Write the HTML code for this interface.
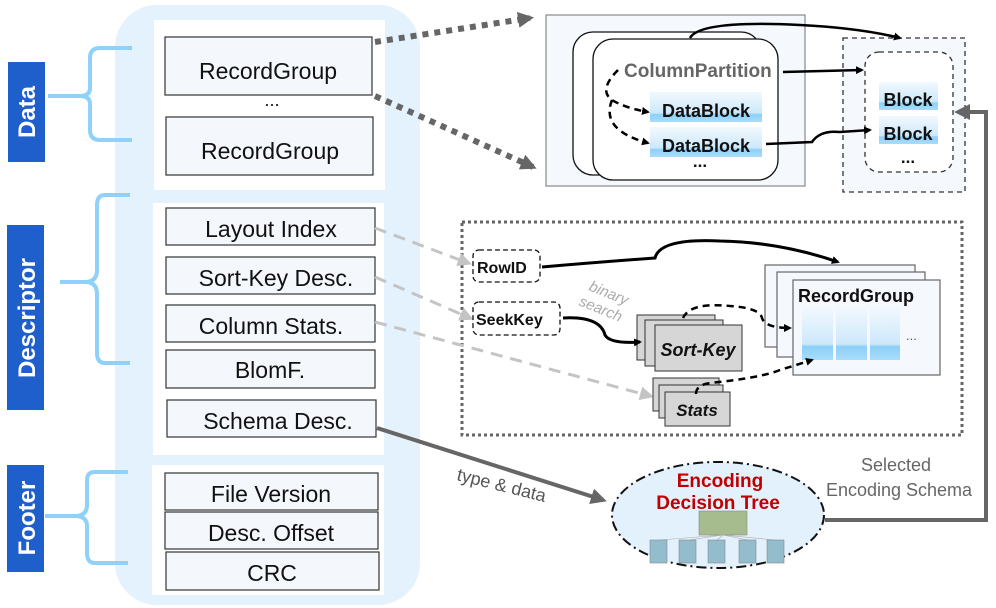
<!DOCTYPE html>
<html><head><meta charset="utf-8"><style>
body{margin:0;background:#fff}
svg{display:block;font-family:"Liberation Sans",sans-serif}
</style></head><body>
<svg width="996" height="608" viewBox="0 0 996 608" xmlns="http://www.w3.org/2000/svg">
<defs>
<marker id="ab" markerWidth="8" markerHeight="8" refX="6" refY="4" orient="auto" markerUnits="userSpaceOnUse"><path d="M0,0 L8,4 L0,8 z" fill="#000"/></marker>
<marker id="ag" markerWidth="16" markerHeight="16" refX="12" refY="8" orient="auto" markerUnits="userSpaceOnUse"><path d="M0,0 L16,8 L0,16 z" fill="#666"/></marker>
<marker id="al" markerWidth="14" markerHeight="14" refX="10" refY="7" orient="auto" markerUnits="userSpaceOnUse"><path d="M0,0 L14,7 L0,14 z" fill="#c4c4c4"/></marker>
<linearGradient id="bl" x1="0" y1="0" x2="0" y2="1"><stop offset="0" stop-color="#f2f9fe"/><stop offset="0.7" stop-color="#cde8fb"/><stop offset="0.75" stop-color="#8dd0f8"/><stop offset="1" stop-color="#a9dcfa"/></linearGradient>
</defs>
<!-- left -->
<rect x="115" y="5" width="305" height="600" rx="42" fill="#e4f2fd"/>
<rect x="154" y="20" width="231" height="170" fill="#fff"/>
<rect x="153" y="203" width="231" height="252" fill="#fff"/>
<rect x="152" y="465" width="232" height="130" fill="#fff"/>
<g fill="#f4f8fc" stroke="#333" stroke-width="1.2">
<rect x="165" y="37" width="207" height="58"/><rect x="166" y="117" width="207" height="58"/>
<rect x="166" y="208" width="209" height="37"/><rect x="166" y="257" width="209" height="37"/>
<rect x="166" y="305" width="209" height="37"/><rect x="166" y="350" width="209" height="38"/>
<rect x="167" y="400" width="209" height="37"/>
<rect x="165" y="473" width="213" height="37"/><rect x="165" y="512" width="213" height="37"/>
<rect x="166" y="552" width="213" height="38"/>
</g>
<g font-size="23" text-anchor="middle" fill="#111">
<text x="268" y="79">RecordGroup</text><text x="270" y="159">RecordGroup</text>
<text x="272" y="106" font-size="18">...</text>
<text x="271" y="237">Layout Index</text><text x="276" y="286">Sort-Key Desc.</text>
<text x="271" y="334">Column Stats.</text><text x="270" y="378">BlomF.</text>
<text x="278" y="429">Schema Desc.</text>
<text x="271" y="502">File Version</text><text x="271" y="541">Desc. Offset</text>
<text x="272" y="581">CRC</text>
</g>
<g fill="#1f5fcc"><rect x="8" y="62" width="37" height="100"/><rect x="7" y="225" width="37" height="185"/><rect x="7" y="465" width="37" height="107"/></g>
<g fill="#fff" font-size="24" font-weight="bold" text-anchor="middle">
<text transform="translate(35,112) rotate(-90)">Data</text>
<text transform="translate(35,318) rotate(-90)">Descriptor</text>
<text transform="translate(35,518) rotate(-90)">Footer</text>
</g>
<g fill="none" stroke="#8fd1f8" stroke-width="4">
<path d="M132,48 H100 Q90,48 90,58 V88 Q90,96 80,96 H48 M80,96 Q90,96 90,104 V130 Q90,140 100,140 H132"/>
<path d="M130,195 H105 Q97,195 97,205 V270 Q97,282 85,282 H60 M85,282 Q97,282 97,294 V353 Q97,363 105,363 H130"/>
<path d="M128,472 H95 Q87,472 87,480 V505 Q87,516 75,516 H45 M75,516 Q87,516 87,526 V553 Q87,563 95,563 H128"/>
</g>
<!-- top right -->
<path d="M375,42 L530,18" stroke="#666" stroke-width="6" stroke-dasharray="6,6" fill="none" marker-end="url(#ag)"/>
<path d="M375,96 L533,167" stroke="#666" stroke-width="6" stroke-dasharray="6,6" fill="none" marker-end="url(#ag)"/>
<rect x="546" y="15" width="259" height="171" fill="#f5f9fd" stroke="#888" stroke-width="1.2"/>
<rect x="573" y="32" width="188" height="143" rx="20" fill="#fff" stroke="#111" stroke-width="1.3"/>
<rect x="593" y="39" width="185" height="141" rx="20" fill="#fff" stroke="#111" stroke-width="1.3"/>
<text x="624" y="77" font-size="19" font-weight="bold" fill="#666">ColumnPartition</text>
<rect x="650" y="92" width="112" height="30" fill="url(#bl)"/><rect x="650" y="127" width="112" height="30" fill="url(#bl)"/>
<g font-size="18" font-weight="bold" fill="#111" text-anchor="middle"><text x="706" y="117">DataBlock</text><text x="706" y="152">DataBlock</text>
<text x="700" y="167" font-size="17">...</text></g>
<path d="M618,70 Q598,90 612,100 Q625,108 648,112" stroke="#000" stroke-width="2.5" fill="none" stroke-dasharray="7,5" marker-end="url(#ab)"/>
<path d="M612,100 Q600,130 648,143" stroke="#000" stroke-width="2.5" fill="none" stroke-dasharray="7,5" marker-end="url(#ab)"/>
<rect x="843" y="38" width="122" height="154" fill="#f5f9fd" stroke="#333" stroke-width="1.3" stroke-dasharray="5,4"/>
<rect x="865" y="52" width="88" height="120" rx="14" fill="#fff" stroke="#333" stroke-width="1.3" stroke-dasharray="5,4"/>
<rect x="879" y="82" width="59" height="28" fill="url(#bl)"/><rect x="879" y="116" width="59" height="28" fill="url(#bl)"/>
<g font-size="18" font-weight="bold" fill="#111" text-anchor="middle"><text x="908" y="106">Block</text><text x="908" y="140">Block</text><text x="908" y="163" font-size="17">...</text></g>
<path d="M690,38 Q700,20 800,25 Q860,28 900,38" stroke="#000" stroke-width="2.5" fill="none" marker-end="url(#ab)"/>
<path d="M783,72 L862,70" stroke="#000" stroke-width="2.5" fill="none" marker-end="url(#ab)"/>
<path d="M766,144 L812,142 Q820,130 840,132 L870,130" stroke="#000" stroke-width="2.5" fill="none" marker-end="url(#ab)"/>
<path d="M825,520 H986 V112 H958" stroke="#666" stroke-width="4" fill="none" marker-end="url(#ag)"/>
<!-- middle -->
<rect x="462" y="222" width="500" height="213" fill="none" stroke="#666" stroke-width="3" stroke-dasharray="3,3"/>
<path d="M375,228 L468,263" stroke="#c4c4c4" stroke-width="3" stroke-dasharray="12,8" fill="none" marker-end="url(#al)"/>
<path d="M375,277 L470,318" stroke="#c4c4c4" stroke-width="3" stroke-dasharray="12,8" fill="none" marker-end="url(#al)"/>
<path d="M375,322 L650,396" stroke="#c4c4c4" stroke-width="3" stroke-dasharray="12,8" fill="none" marker-end="url(#al)"/>
<rect x="473" y="250" width="67" height="32" rx="6" fill="#fff" stroke="#111" stroke-width="1.3" stroke-dasharray="5,3"/>
<rect x="473" y="302" width="87" height="33" rx="6" fill="#fff" stroke="#111" stroke-width="1.3" stroke-dasharray="5,3"/>
<g font-size="16" font-weight="bold" fill="#111"><text x="477" y="273">RowID</text><text x="476" y="325">SeekKey</text></g>
<text transform="translate(588,290) rotate(22)" font-size="15" font-style="italic" fill="#aaa">binary</text>
<text transform="translate(578,305) rotate(22)" font-size="15" font-style="italic" fill="#aaa">search</text>
<path d="M542,267 Q600,262 655,258 Q660,238 720,241 Q780,242 838,262" stroke="#000" stroke-width="3" fill="none" marker-end="url(#ab)"/>
<g fill="#f5f9fd" stroke="#666" stroke-width="1.2"><rect x="765" y="265" width="150" height="82"/><rect x="777" y="272" width="148" height="85"/><rect x="793" y="280" width="147" height="95"/></g>
<text x="798" y="302" font-size="18" font-weight="bold" fill="#111">RecordGroup</text>
<rect x="802" y="307" width="31" height="53" fill="url(#bl)"/><rect x="836" y="307" width="31" height="53" fill="url(#bl)"/><rect x="870" y="307" width="30" height="53" fill="url(#bl)"/>
<text x="906" y="340" font-size="13" fill="#555">...</text>
<g fill="#d6d6d6" stroke="#333" stroke-width="1"><rect x="637" y="315" width="78" height="45"/><rect x="645" y="320" width="78" height="46"/><rect x="655" y="325" width="87" height="46"/></g>
<text x="698" y="356" font-size="18" font-weight="bold" font-style="italic" fill="#111" text-anchor="middle">Sort-Key</text>
<g fill="#d6d6d6" stroke="#333" stroke-width="1"><rect x="653" y="378" width="66" height="33"/><rect x="659" y="385" width="64" height="33"/><rect x="665" y="392" width="65" height="34"/></g>
<text x="697" y="416" font-size="17" font-weight="bold" font-style="italic" fill="#111" text-anchor="middle">Stats</text>
<path d="M563,318 Q600,316 605,335 Q610,344 640,342" stroke="#000" stroke-width="3" fill="none" marker-end="url(#ab)"/>
<path d="M683,318 Q690,302 730,306 Q760,308 762,318 Q765,328 790,328" stroke="#000" stroke-width="2.5" fill="none" stroke-dasharray="7,5" marker-end="url(#ab)"/>
<path d="M696,394 Q696,385 710,383 Q760,378 780,370 L812,360" stroke="#000" stroke-width="2.5" fill="none" stroke-dasharray="7,5" marker-end="url(#ab)"/>
<!-- bottom -->
<path d="M377,428 L603,500" stroke="#666" stroke-width="4" fill="none" marker-end="url(#ag)"/>
<text transform="translate(456,480) rotate(14)" font-size="18" fill="#555">type &amp; data</text>
<ellipse cx="718" cy="515" rx="106" ry="53" fill="#e3f1fd" stroke="#111" stroke-width="2" stroke-dasharray="10,4,2,4"/>
<g font-size="19" font-weight="bold" fill="#c00000" text-anchor="middle"><text x="720" y="487">Encoding</text><text x="718" y="509">Decision Tree</text></g>
<rect x="699" y="511" width="48" height="24" fill="#a7bc8e" stroke="#888" stroke-width="0.6"/>
<g stroke="#aaa" stroke-width="0.6"><path d="M723,535 L660,540 M723,535 L689,540 M723,535 L717,540 M723,535 L748,540 M723,535 L775,540"/></g>
<g fill="#93bccc" stroke="#888" stroke-width="0.6"><rect x="650" y="540" width="17" height="23"/><rect x="679" y="540" width="17" height="23"/><rect x="708" y="540" width="17" height="23"/><rect x="739" y="540" width="17" height="23"/><rect x="767" y="540" width="17" height="23"/></g>
<g font-size="18" fill="#666" text-anchor="middle"><text x="896" y="471">Selected</text><text x="899" y="496">Encoding Schema</text></g>
</svg>
</body></html>
